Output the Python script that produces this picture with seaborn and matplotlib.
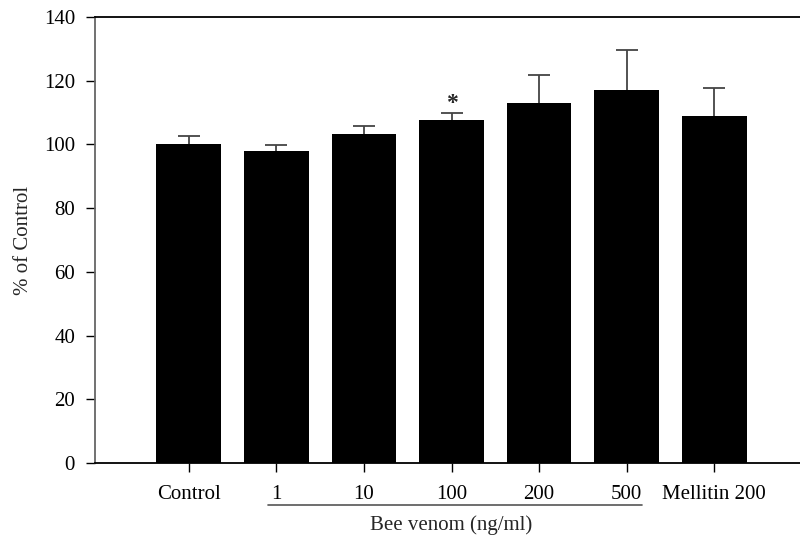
"""Bee venom effect on cell viability, % of control."""

import matplotlib

matplotlib.use("Agg")

import matplotlib.pyplot as plt
import numpy as np
import pandas as pd
import seaborn as sns

groups = ["Control", "1", "10", "100", "200", "500", "Mellitin 200"]
means = [100.0, 97.9, 103.2, 107.6, 113.0, 117.0, 109.0]
errors = [2.6, 1.8, 2.7, 2.2, 8.7, 12.6, 8.7]
significant = ["100"]


def main():
    sns.set_theme(style="white")
    plt.rcParams["font.family"] = ["Liberation Serif", "DejaVu Serif"]

    df = pd.DataFrame({"Group": groups, "Percent": means, "Err": errors})

    fig = plt.figure(figsize=(8, 5.47), dpi=100)
    ax = fig.add_axes([0.119, 0.1536, 0.881, 0.8154])

    sns.barplot(data=df, x="Group", y="Percent", order=groups, color="black",
                saturation=1, width=0.74, errorbar=None, ax=ax,
                edgecolor="black", linewidth=0)
    for bar in ax.patches:
        bar.set_zorder(3)

    # upper-only error bars: stem + top cap
    pos = np.arange(len(groups))
    tops = df["Percent"] + df["Err"]
    ax.errorbar(pos, df["Percent"], yerr=[np.zeros(len(groups)), df["Err"]],
                fmt="none", ecolor="#444444", elinewidth=1.3, capsize=0, zorder=2)
    ax.plot(pos, tops, ls="none", marker="_", markersize=16, mew=1.3,
            color="#444444", zorder=2)

    for g in significant:
        i = groups.index(g)
        ax.text(i, means[i] + errors[i] - 0.3, "*", ha="center", va="bottom",
                fontsize=17, fontweight="bold", zorder=4)

    ax.set_ylim(0, 140)
    ax.set_yticks(range(0, 141, 20))
    ax.set_xlim(-1.07, 6.98)
    ax.set_xlabel("")
    ax.set_ylabel("% of Control", fontsize=15, labelpad=8)
    ax.tick_params(axis="both", labelsize=15, direction="out", length=6.5, width=1,
                   colors="black", bottom=True, left=True)
    ax.tick_params(axis="x", pad=9)
    ax.tick_params(axis="y", pad=8)

    for side in ("top", "bottom"):
        ax.spines[side].set_color("black")
        ax.spines[side].set_linewidth(1.3)
    ax.spines["left"].set_color("#666666")
    ax.spines["left"].set_linewidth(1.3)
    ax.spines["right"].set_visible(False)

    # bracket line under the bee venom doses
    xt = ax.get_xaxis_transform()
    ax.plot([0.9, 5.18], [-0.094, -0.094], transform=xt, color="#555555",
            lw=1.2, clip_on=False)
    ax.text(3, -0.14, "Bee venom (ng/ml)", transform=xt, ha="center", va="center",
            fontsize=15)

    fig.savefig("out.png", dpi=100)


if __name__ == "__main__":
    main()
